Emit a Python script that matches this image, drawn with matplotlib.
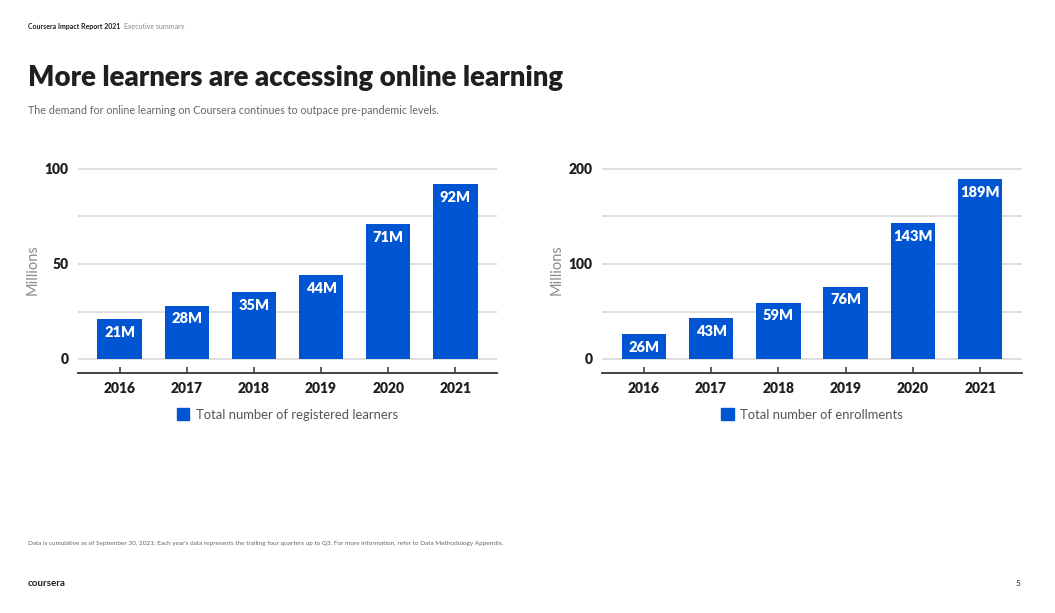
import matplotlib
matplotlib.use("Agg")
import matplotlib.pyplot as plt

plt.rcParams["font.family"] = ["Lato", "DejaVu Sans"]

W, H = 1055, 613

years = ["2016", "2017", "2018", "2019", "2020", "2021"]
learners = [21, 28, 35, 44, 71, 92]
enrollments = [26, 43, 59, 76, 143, 189]
learner_labels = ["21M", "28M", "35M", "44M", "71M", "92M"]
enroll_labels = ["26M", "43M", "59M", "76M", "143M", "189M"]

BLUE = "#0056D2"
DARK = "#1f1f1f"


def px_axes(fig, x0, x1, y_top, y_bot):
    return fig.add_axes([x0 / W, 1 - y_bot / H, (x1 - x0) / W, (y_bot - y_top) / H])


def draw_chart(ax, values, labels, ymax, step, legend_text, label_off):
    x = list(range(len(years)))
    ax.bar(x, values, width=0.66, color=BLUE, zorder=3)
    for xi, v, lab in zip(x, values, labels):
        ax.text(xi, v - label_off, lab, ha="center", va="center", color="white",
                fontsize=10.5, fontweight="heavy", zorder=4)
    ax.set_xlim(-0.62, 5.62)
    ax.set_ylim(-14 * ymax / 190, ymax * 1.01)
    ticks = [i * step for i in range(5)]
    ax.set_yticks(ticks)
    ax.set_yticklabels([str(t) if i % 2 == 0 else "" for i, t in enumerate(ticks)])
    ax.grid(axis="y", color="#d9d9d9", linewidth=1.2, zorder=0)
    ax.set_xticks(x)
    ax.set_xticklabels(years)
    for s in ["top", "right", "left"]:
        ax.spines[s].set_visible(False)
    ax.spines["bottom"].set_color("#333333")
    ax.spines["bottom"].set_linewidth(1.3)
    ax.tick_params(axis="x", direction="in", length=4.5, width=1.1, color="#333333",
                   pad=6.5, labelsize=10, labelcolor=DARK)
    ax.tick_params(axis="y", length=0, pad=7, labelsize=10, labelcolor=DARK)
    for lab in ax.get_xticklabels() + ax.get_yticklabels():
        lab.set_fontweight("heavy")
    ax.set_ylabel("Millions", color="#8a8a8a", fontsize=10.5, labelpad=3)
    handle = plt.Rectangle((0, 0), 1, 1, color=BLUE)
    ax.legend([handle], [legend_text], loc="upper center", bbox_to_anchor=(0.5, -0.115),
              frameon=False, handlelength=0.95, handleheight=0.95, handletextpad=0.5,
              fontsize=9.4, labelcolor="#555555")


fig = plt.figure(figsize=(W / 100, H / 100), dpi=100)

ax1 = px_axes(fig, 78, 497, 167.1, 373)
draw_chart(ax1, learners, learner_labels, 100, 25, "Total number of registered learners", 6.8)

ax2 = px_axes(fig, 602, 1022, 167.1, 373)
draw_chart(ax2, enrollments, enroll_labels, 200, 50, "Total number of enrollments", 13.6)

fig.text(28 / W, 1 - 27 / H, "Coursera Impact Report 2021", fontsize=5, fontweight="bold",
         color=DARK, va="center")
fig.text(124 / W, 1 - 27 / H, "Executive summary", fontsize=5, color="#888888", va="center")
fig.text(28 / W, 1 - 78 / H, "More learners are accessing online learning", fontsize=19.8,
         fontweight="heavy", color=DARK, va="center")
fig.text(28 / W, 1 - 110 / H,
         "The demand for online learning on Coursera continues to outpace pre-pandemic levels.",
         fontsize=7.75, color="#666666", va="center")
fig.text(28 / W, 1 - 544 / H,
         "Data is cumulative as of September 30, 2021; Each year's data represents the trailing four "
         "quarters up to Q3. For more information, refer to Data Methodology Appendix.",
         fontsize=4.6, color="#666666", va="center")
fig.text(28 / W, 1 - 583 / H, "coursera", fontsize=7, fontweight="bold", color=DARK, va="center")
fig.text(1020 / W, 1 - 583 / H, "5", fontsize=6, color=DARK, va="center", ha="right")

fig.savefig("out.png", dpi=100)
